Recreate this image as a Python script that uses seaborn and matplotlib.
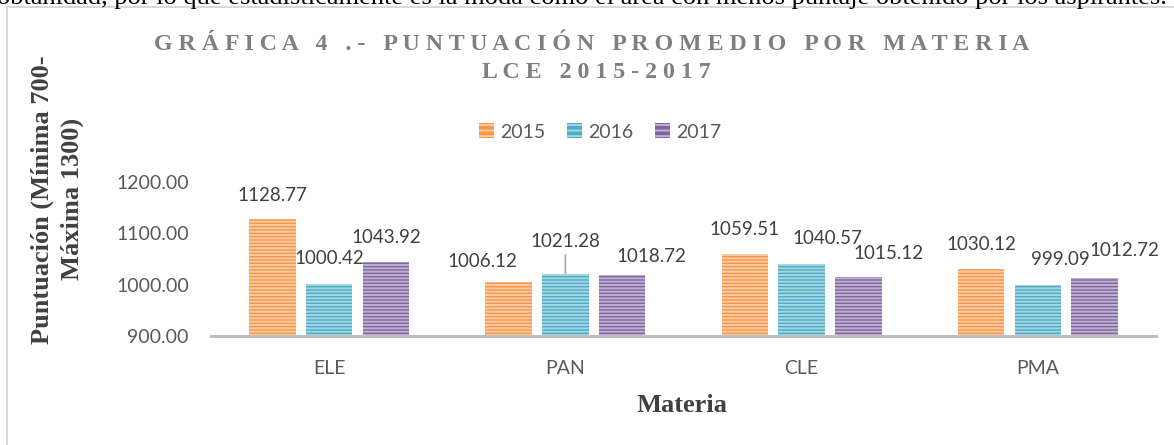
import matplotlib
matplotlib.use("Agg")
import matplotlib.pyplot as plt
from matplotlib.patches import Rectangle, Patch
import seaborn as sns
import pandas as pd

# Average score per subject and year
materias = ["ELE", "PAN", "CLE", "PMA"]
anios = ["2015", "2016", "2017"]
p2015 = [1128.77, 1006.12, 1059.51, 1030.12]
p2016 = [1000.42, 1021.28, 1040.57, 999.09]
p2017 = [1043.92, 1018.72, 1015.12, 1012.72]
yticks = [900, 1000, 1100, 1200]

colores = ["#F79646", "#4BACC6", "#8064A2"]

# manual placement of each value label (pixel shift x, pixel height above bar)
label_shift = {
    "2015": [(0, 23), (-26, 20), (0, 25), (0, 25)],
    "2016": [(0, 26), (0, 32), (26, 25), (23, 26)],
    "2017": [(0, 25), (29, 19), (30, 23), (30, 28)],
}

df = pd.DataFrame({
    "Materia": materias * 3,
    "Año": [a for a in anios for _ in materias],
    "Puntuación": p2015 + p2016 + p2017,
})

sns.set_theme(style="white")
plt.rcParams["font.family"] = ["Lato", "DejaVu Sans"]
plt.rcParams["hatch.linewidth"] = 1.4

W, H = 1174, 445
fig = plt.figure(figsize=(W / 100, H / 100), dpi=100)
ax = fig.add_axes([211 / W, 1 - 336 / H, (1156 - 211) / W, (336 - 182) / H])

sns.barplot(data=df, x="Materia", y="Puntuación", hue="Año", order=materias,
            hue_order=anios, palette=colores, width=0.72, gap=0.18,
            saturation=1, ax=ax, legend=False, errorbar=None)

stripe = (1, 1, 1, 0.5)
for bar in ax.patches:
    bar.set_hatch("-----")
    bar.set_edgecolor(stripe)
    bar.set_linewidth(0)

ax.set_ylim(900, 1200)
ax.set_xlim(-0.5, 3.5)
ax.set_yticks(yticks)
ax.set_yticklabels([f"{v:.2f}" for v in yticks])
ax.tick_params(axis="y", length=0, pad=16, labelsize=14, labelcolor="#595959")
ax.tick_params(axis="x", length=0, pad=17, labelsize=14, labelcolor="#595959")
ax.set_xlabel("")
ax.set_ylabel("")
for s in ["top", "right", "left"]:
    ax.spines[s].set_visible(False)
ax.spines["bottom"].set_color("#BFBFBF")
ax.spines["bottom"].set_linewidth(2.2)

# value labels
px = 0.72  # points per pixel at 100 dpi
for cont, anio, vals in zip(ax.containers, anios, [p2015, p2016, p2017]):
    for bar, v, (dx, dy) in zip(cont.patches, vals, label_shift[anio]):
        xc = bar.get_x() + bar.get_width() / 2
        kw = {}
        if dy > 30:
            kw["arrowprops"] = dict(arrowstyle="-", color="#A6A6A6", lw=1.2,
                                    shrinkA=1, shrinkB=0)
        ax.annotate(f"{v:.2f}", xy=(xc, v), xytext=(dx * px, dy * px),
                    textcoords="offset points", ha="center", va="center",
                    fontsize=13.5, color="#404040", annotation_clip=False, **kw)

# legend
handles = [Patch(facecolor=c, edgecolor=stripe, hatch="---", linewidth=0)
           for c in colores]
fig.legend(handles, anios, loc="center", bbox_to_anchor=(600 / W, 1 - 132 / H),
           ncol=3, frameon=False, fontsize=14, labelcolor="#595959",
           handlelength=0.8, handleheight=0.8, handletextpad=0.3,
           columnspacing=1.1)

# title
serif = ["Liberation Serif", "DejaVu Serif"]
fig.text(592 / W, 1 - 45 / H,
         "G R Á F I C A   4   . -   P U N T U A C I Ó N   P R O M E D I O   P O R   M A T E R I A",
         ha="center", va="center", fontsize=17.2, fontweight="bold",
         color="#7F7F7F", family=serif)
fig.text(596 / W, 1 - 73 / H, "L C E   2 0 1 5 - 2 0 1 7",
         ha="center", va="center", fontsize=17.2, fontweight="bold",
         color="#7F7F7F", family=serif)

# axis titles
fig.text(42 / W, 1 - 200 / H, "Puntuación (Mínima 700-", rotation=90,
         ha="center", va="center", fontsize=19, fontweight="bold",
         color="#404040", family=serif)
fig.text(72 / W, 1 - 199 / H, "Máxima 1300)", rotation=90,
         ha="center", va="center", fontsize=19, fontweight="bold",
         color="#404040", family=serif)
fig.text(682 / W, 1 - 406 / H, "Materia", ha="center", va="center",
         fontsize=19, fontweight="bold", color="#404040", family=serif)

# chart area frame
fig.patches.append(Rectangle((7 / W, -0.1), 1.2, 1 - 7 / H + 0.1,
                             transform=fig.transFigure, fill=False,
                             edgecolor="#D9D9D9", linewidth=1.5))

# running text of the page above the chart
fig.text(-3 / W, 1 - 4 / H,
         "obtanidad, por lo que estadísticamente es la moda como el área con menos puntaje obtenido por los aspirantes.",
         ha="left", va="baseline", fontsize=19, color="#000000", family=serif)

fig.savefig("out.png", dpi=100, facecolor="white")
